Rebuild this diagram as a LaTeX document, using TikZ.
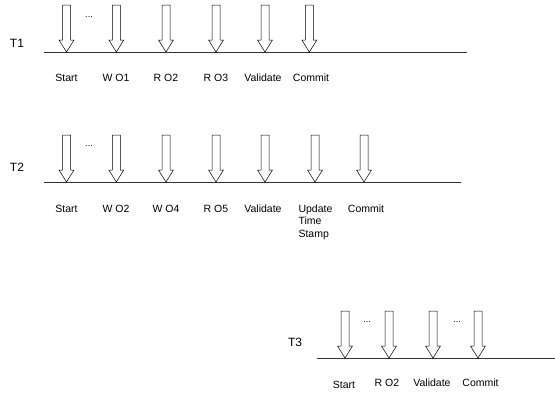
\documentclass[tikz,border=0pt]{standalone}
\usepackage{fontspec}
\setmainfont{Liberation Sans}
\begin{document}
\begin{tikzpicture}[x=1pt,y=-1pt,
  timeline/.style={draw=black!80, line width=0.9pt},
  evarrow/.style={draw=black, line width=0.5pt, fill=white},
  evlabel/.style={font=\fontsize{10.5}{12.7}\selectfont, inner sep=0pt, anchor=base},
  txname/.style={font=\fontsize{12}{13}\selectfont, inner sep=0pt},
  gap/.style={font=\fontsize{9}{10}\selectfont, inner sep=0pt}]
\useasboundingbox (0,0) rectangle (555,394);

% hollow block arrow: centre x, top y, start of head y, tip y
\newcommand\evtick[4]{%
  \draw[evarrow] (#1-4,#2) -- (#1+4,#2) -- (#1+4,#3) -- (#1+7.5,#3)
    -- (#1,#4) -- (#1-7.5,#3) -- (#1-4,#3) -- cycle;}

% ---- T1 ----
\coordinate (l1a) at (44,52);
\coordinate (l1b) at (467,52);
\draw[timeline] (l1a) -- (l1b);
\node[txname] (t1) at (17,43) {T1};
\foreach \x in {66.5,116.3,166,216,265,309.3} {\evtick{\x}{5}{40}{52}}
\node[gap] (d1) at (89,17) {...};
\node[evlabel] (s1a) at (66.5,81) {Start};
\node[evlabel] (s1b) at (116,81) {W O1};
\node[evlabel] (s1c) at (166,81) {R O2};
\node[evlabel] (s1d) at (216,81) {R O3};
\node[evlabel] (s1e) at (263,81) {Validate};
\node[evlabel] (s1f) at (311,81) {Commit};

% ---- T2 ----
\coordinate (l2a) at (44,182);
\coordinate (l2b) at (461,182);
\draw[timeline] (l2a) -- (l2b);
\node[txname] (t2) at (17,167) {T2};
\foreach \x in {66.5,116.3,166,216,265,315,364} {\evtick{\x}{135}{170}{182}}
\node[gap] (d2) at (89,146) {...};
\node[evlabel] (s2a) at (66.5,212) {Start};
\node[evlabel] (s2b) at (116,212) {W O2};
\node[evlabel] (s2c) at (166,212) {W O4};
\node[evlabel] (s2d) at (216,212) {R O5};
\node[evlabel] (s2e) at (263,212) {Validate};
\node[evlabel, anchor=north west, align=left] (s2f) at (298.3,204.3) {Update\\Time\\Stamp};
\node[evlabel] (s2g) at (366,212) {Commit};

% ---- T3 ----
\coordinate (l3a) at (317,358);
\coordinate (l3b) at (555,358);
\draw[timeline] (l3a) -- (l3b);
\node[txname] (t3) at (295,342) {T3};
\foreach \x in {345,389,433,478} {\evtick{\x}{311}{346}{358}}
\node[gap] (d3) at (367,322) {...};
\node[gap] (d4) at (457,322) {...};
\node[evlabel] (s3a) at (344,388) {Start};
\node[evlabel] (s3b) at (387,386) {R O2};
\node[evlabel] (s3c) at (432,386) {Validate};
\node[evlabel] (s3d) at (480.5,386) {Commit};
\end{tikzpicture}
\end{document}
